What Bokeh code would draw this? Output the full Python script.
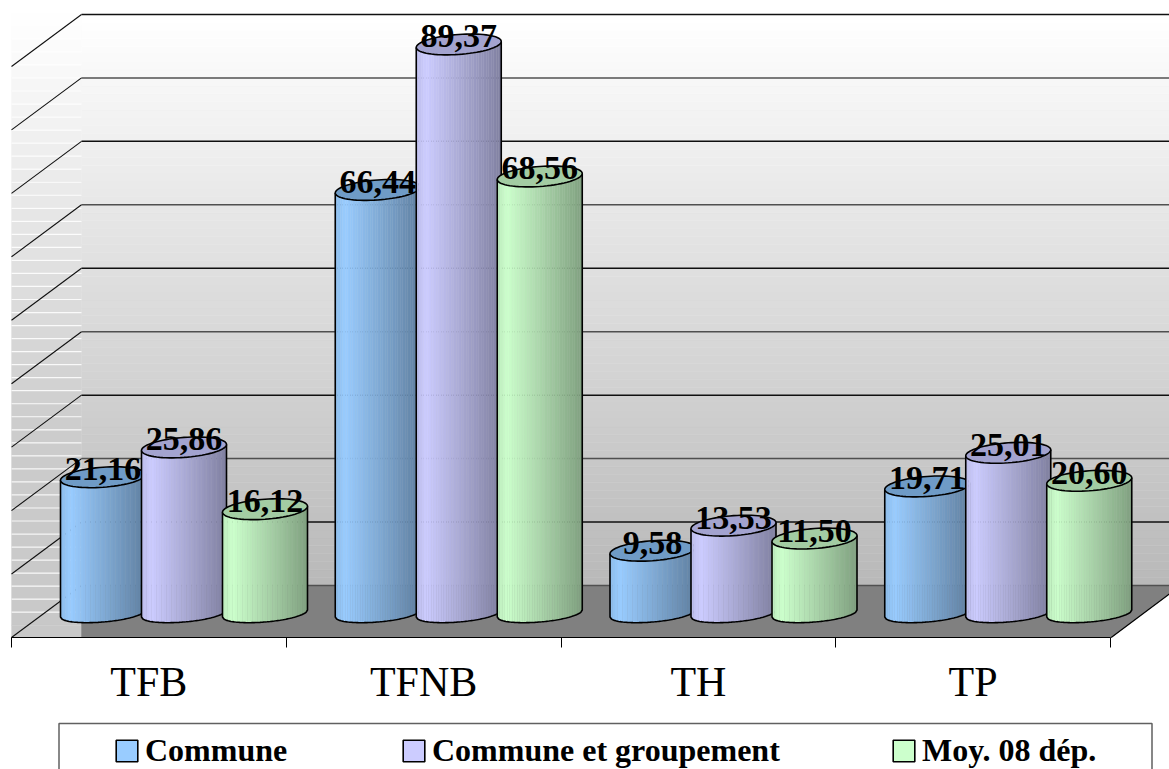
from bokeh.plotting import figure
from bokeh.embed import file_html
from bokeh.resources import INLINE
from bokeh.core.properties import value
from bokeh.models import (ColumnDataSource, Range1d, LinearAxis, FixedTicker, Legend,
                          LegendItem, BoxAnnotation)
import numpy as np

CATEGORIES = ["TFB", "TFNB", "TH", "TP"]
COMMUNE = [21.16, 66.44, 9.58, 19.71]
GROUPEMENT = [25.86, 89.37, 13.53, 25.01]
MOYENNE = [16.12, 68.56, 11.50, 20.60]
SERIES_NAMES = ["Commune", "Commune et groupement", "Moy. 08 dép."]
GRID_VALUES = [0, 10, 20, 30, 40, 50, 60, 70, 80, 90]

SERIES = [COMMUNE, GROUPEMENT, MOYENNE]
BASE = [(0x99, 0xCC, 0xFF), (0xCC, 0xCC, 0xFF), (0xCC, 0xFF, 0xCC)]
TOPS = ["#6f9bc6", "#a3a3cf", "#a3cca3"]

# layout (px)
W, H = 1169, 769
PX_PER_CAT = 274.75
PX_PER_UNIT = 6.345
X0, Y0 = 11.0, 611.0           # position of x=0 and of value 0 on the bars' plane
FRONT_Y = 637.0                # the front edge of the floor, where the category axis lies
SERIF = "Liberation Serif"


def dx(px):
    return px / PX_PER_CAT


def dy(px):
    return px / PX_PER_UNIT


DEPTH = dy(26.0)               # back wall is 26 px above the bars' plane, front edge 26 below
WALL_X = dx(70.0)
x_end = dx(W - X0)
x_start = dx(-X0)

p = figure(width=W, height=H, output_backend="svg", toolbar_location=None,
           x_axis_location=None, y_axis_location=None,
           x_range=Range1d(x_start, x_end),
           y_range=Range1d(dy(Y0 - H), dy(Y0)),
           min_border_left=0, min_border_right=0, min_border_top=0, min_border_bottom=0,
           outline_line_color=None, background_fill_color="white", border_fill_color="white")
p.grid.visible = False


def grey(level):
    v = int(round(level))
    return f"#{v:02x}{v:02x}{v:02x}"


# back wall gradient
n = 72
edges = np.linspace(0, GRID_VALUES[-1], n + 1)
levels = 0xb9 + (0xff - 0xb9) * ((edges[:-1] + edges[1:]) / 2 / GRID_VALUES[-1])
cols = [grey(l) for l in levels]
p.quad(left=WALL_X, right=x_end, bottom=list(edges[:-1] + DEPTH), top=list(edges[1:] + DEPTH),
       fill_color=cols, line_color=cols, line_width=0.5)

# side wall: stepped bands with pale stripes
STEP = 13.03
band_top = [429.3 + STEP * k for k in range(-32, 16)]
sy_top, sy_bot, scol = [], [], []
for t in band_top:
    mid = t + STEP / 2
    if mid < 430:
        lv = 255 - (255 - 0xcc) * max(0, (mid - 14) / 416)
    else:
        lv = 0xcc - (0xcc - 0xc8) * (mid - 430) / 207
    sy_top.append(dy(Y0 - t))
    sy_bot.append(dy(Y0 - min(t + STEP, FRONT_Y)))
    scol.append(grey(lv))
p.quad(left=0, right=WALL_X, top=sy_top, bottom=sy_bot, fill_color=scol, line_color=scol, line_width=0.3)
stripe_y = [dy(Y0 - t) for t in band_top if t <= 612]
p.segment(x0=0, x1=WALL_X, y0=stripe_y, y1=stripe_y, line_color="white", line_width=1.2, line_alpha=0.85)

# floor
fx = [WALL_X, dx(1180 - X0), dx(1110.7 - X0), WALL_X]
fy = [GRID_VALUES[0] + DEPTH, GRID_VALUES[0] + DEPTH, GRID_VALUES[0] - DEPTH, GRID_VALUES[0] - DEPTH]
p.patch(fx, fy, fill_color="#808080", line_color="#808080", line_width=0.5)
p.line([dx(1110.7 - X0), dx(1180 - X0)], [GRID_VALUES[0] - DEPTH, GRID_VALUES[0] + DEPTH],
       line_color="black", line_width=1.2)

# gridlines on the back wall and their diagonals on the side wall
gy = [v + DEPTH for v in GRID_VALUES]
gc = ["#505050" if i % 2 == 0 else "#101010" for i in range(len(GRID_VALUES))]
p.segment(x0=WALL_X, x1=x_end, y0=gy, y1=gy, line_color=gc, line_width=1.5)
p.segment(x0=0, x1=WALL_X, y0=[v - DEPTH for v in GRID_VALUES], y1=gy, line_color="#101010", line_width=1.1)

# cylinders
A = 42.5                      # half width, px
TOP_B, TOP_S = 10.0, 3.0
BOT_B, BOT_S, BOT_OFF = 8.5, 3.5, 2.0
GROUP_OFF = 91.5              # px from the category's left tick to the first cylinder's centre
STEP_X = 81.0
NSTRIP = 34
us = np.linspace(-1, 1, NSTRIP + 1)


def ramp(base, t):
    f = 0.92 + (1 - 0.92) * t / 0.12 if t < 0.12 else 1 - (1 - 0.63) * (t - 0.12) / 0.88
    r, g, b = [min(255, int(round(c * f))) for c in base]
    return f"#{r:02x}{g:02x}{b:02x}"


legend_renderers = []
for s, vals in enumerate(SERIES):
    centres = [c + dx(GROUP_OFF + STEP_X * s) for c in range(len(vals))]
    # zero-width bars, hidden behind the cylinders: they carry the legend's swatch
    legend_renderers.append(p.quad(left=centres, right=centres, top=vals, bottom=vals,
                                   fill_color="#%02x%02x%02x" % BASE[s], line_color="black", line_width=1.6))
    xs, ys, cs, ox, oy, tx, ty = [], [], [], [], [], [], []
    for cx, v in zip(centres, vals):
        for i in range(NSTRIP):
            u0, u1 = us[i], us[i + 1]
            low0 = BOT_OFF + BOT_B * np.sqrt(1 - u0 ** 2) - BOT_S * u0
            low1 = BOT_OFF + BOT_B * np.sqrt(1 - u1 ** 2) - BOT_S * u1
            xs.append([cx + dx(A * u0), cx + dx(A * u1), cx + dx(A * u1), cx + dx(A * u0)])
            ys.append([v + dy(TOP_S * u0), v + dy(TOP_S * u1), -dy(low1), -dy(low0)])
            cs.append(ramp(BASE[s], (i + 0.5) / NSTRIP))
        # outline of the body
        u = np.linspace(1, -1, 60)
        low = BOT_OFF + BOT_B * np.sqrt(1 - u ** 2) - BOT_S * u
        ox.append([cx + dx(A)] + list(cx + dx(A * u)) + [cx - dx(A)])
        oy.append([v + dy(TOP_S)] + list(-dy(low)) + [v - dy(TOP_S)])
        # top ellipse
        th = np.linspace(0, 2 * np.pi, 73)
        tx.append(list(cx + dx(A * np.cos(th))))
        ty.append(list(v - dy(TOP_B * np.sin(th) - TOP_S * np.cos(th))))
    p.patches(xs, ys, fill_color=cs, line_color=cs, line_width=0.4)
    p.multi_line(ox, oy, line_color="black", line_width=1.6)
    p.patches(tx, ty, fill_color=TOPS[s], line_color="black", line_width=1.6)

# value labels, above everything
for s, vals in enumerate(SERIES):
    src = ColumnDataSource(dict(
        x=[c + dx(GROUP_OFF + STEP_X * s) for c in range(len(vals))],
        y=vals,
        t=[f"{v:.2f}".replace(".", ",") for v in vals]))
    p.text("x", "y", text="t", source=src, text_font=value(SERIF), text_font_style="bold",
           text_font_size="34px", text_align="center", text_baseline="alphabetic",
           text_color="black", y_offset=-8)

# axes, fixed at the floor's front edge
front = dy(Y0 - FRONT_Y)
ax1 = LinearAxis(ticker=FixedTicker(ticks=list(range(len(CATEGORIES) + 1))),
                 major_label_overrides={i: "" for i in range(len(CATEGORIES) + 1)},
                 bounds=(0, len(CATEGORIES)), major_tick_in=0, major_tick_out=10,
                 minor_tick_line_color=None, axis_line_color="black", major_tick_line_color="black",
                 major_label_text_font_size="1px", major_label_standoff=0, fixed_location=front)
p.add_layout(ax1, "below")
centers = [i + 0.5 for i in range(len(CATEGORIES))]
ax2 = LinearAxis(ticker=FixedTicker(ticks=centers),
                 major_label_overrides=dict(zip(centers, CATEGORIES)),
                 major_tick_in=0, major_tick_out=0, minor_tick_line_color=None,
                 axis_line_color=None, major_tick_line_color=None,
                 major_label_text_font=SERIF, major_label_text_font_size="42px",
                 major_label_text_color="black", major_label_standoff=21, fixed_location=front)
p.add_layout(ax2, "below")

# legend box, running off the bottom of the page as in the reference
p.add_layout(BoxAnnotation(left=dx(58.5 - X0), right=dx(1151.5 - X0), top=dy(Y0 - 723), bottom=dy(Y0 - 790),
                           fill_color="white", fill_alpha=1, line_color="#606060", line_alpha=1, line_width=1.5,
                           level="annotation"))

LEGEND_X = [113, 400, 890]
LEGEND_Y = 0
for name, r, lx in zip(SERIES_NAMES, legend_renderers, LEGEND_X):
    leg = Legend(items=[LegendItem(label=name, renderers=[r])], location=(lx, LEGEND_Y),
                 orientation="horizontal", border_line_color=None, background_fill_alpha=0,
                 margin=0, padding=0, glyph_width=27, glyph_height=27, label_standoff=5,
                 label_text_font=SERIF, label_text_font_style="bold", label_text_font_size="32px",
                 label_text_color="black", level="annotation")
    p.add_layout(leg, "center")

open("out.html", "w").write(file_html(p, INLINE))
